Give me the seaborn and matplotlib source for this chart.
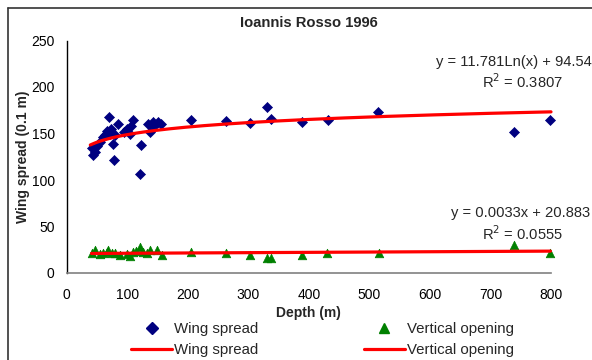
import numpy as np
import pandas as pd
import matplotlib
matplotlib.use("Agg")
import matplotlib.pyplot as plt
from matplotlib.lines import Line2D
import seaborn as sns

# ---- data ----
ws_depth = [41, 44, 47, 50, 55, 60, 63, 66, 70, 72, 74, 77, 78, 80, 85, 95, 100, 104, 107, 110,
            121, 122, 135, 138, 142, 145, 150, 155, 206, 263, 302, 331, 337, 389, 431, 515, 739, 799]
ws_value = [134, 127, 130, 137, 141, 146, 148, 153, 168, 150, 155, 139, 122, 148, 160, 152, 155, 150, 158, 165,
            106, 138, 160, 152, 162, 158, 162, 160, 164, 163, 161, 179, 166, 162, 164, 173, 152, 164]

vo_depth = [41, 47, 55, 60, 66, 69, 75, 80, 88, 100, 105, 110, 115, 121, 126, 132, 138, 149, 157,
            206, 263, 302, 331, 338, 389, 430, 516, 739, 799]
vo_value = [22, 25, 20, 21, 23, 25, 21, 21, 19, 20, 18, 23, 24, 28, 23, 21, 25, 25, 19,
            23, 22, 19, 16, 16, 19, 22, 22, 30, 22]

# trend line coefficients as printed on the chart
ws_a, ws_b, ws_r2 = 11.781, 94.54, 0.3807
vo_a, vo_b, vo_r2 = 0.0033, 20.883, 0.0555

title = "Ioannis Rosso 1996"
x_label = "Depth (m)"
y_label = "Wing spread (0.1 m)"
x_ticks = [0, 100, 200, 300, 400, 500, 600, 700, 800]
y_ticks = [0, 50, 100, 150, 200, 250]

# ---- build frames ----
ws_df = pd.DataFrame({"depth": ws_depth, "value": ws_value})
vo_df = pd.DataFrame({"depth": vo_depth, "value": vo_value})
xfit = np.linspace(min(ws_depth) - 2, max(ws_depth) + 1, 200)
ws_fit = pd.DataFrame({"depth": xfit, "value": ws_a * np.log(xfit) + ws_b})
xfit2 = np.linspace(min(vo_depth), max(vo_depth), 50)
vo_fit = pd.DataFrame({"depth": xfit2, "value": vo_a * xfit2 + vo_b})

sns.set_theme(style="white")
plt.rcParams["font.family"] = ["Liberation Sans", "DejaVu Sans"]

fig = plt.figure(figsize=(5.92, 3.6), dpi=100)
ax = fig.add_axes([66.7 / 592, 1 - 273 / 360, (551 - 66.7) / 592, (273 - 40.5) / 360])

navy = "#000080"
green = "#008000"
red = "#ff0000"

sns.lineplot(data=ws_fit, x="depth", y="value", ax=ax, color=red, linewidth=2.3, zorder=3)
sns.lineplot(data=vo_fit, x="depth", y="value", ax=ax, color=red, linewidth=2.3, zorder=3)
sns.scatterplot(data=ws_df, x="depth", y="value", ax=ax, marker="D", s=26, color=navy,
                edgecolor=navy, linewidth=0.5, zorder=2)
sns.scatterplot(data=vo_df, x="depth", y="value", ax=ax, marker="^", s=38, color=green,
                edgecolor=green, linewidth=0.5, zorder=2)

ax.set_xlim(0, 800)
ax.set_ylim(0, 250)
ax.set_xticks(x_ticks)
ax.set_yticks(y_ticks)
ax.set_xlabel(x_label, fontsize=10, fontweight="bold", labelpad=3)
ax.set_ylabel(y_label, fontsize=10, fontweight="bold", labelpad=1)
ax.set_title(title, fontsize=10.6, fontweight="bold", pad=10)

for s in ["top", "right"]:
    ax.spines[s].set_visible(False)
ax.spines["left"].set_color("black")
ax.spines["bottom"].set_color("#808080")
ax.spines["left"].set_linewidth(1)
ax.spines["bottom"].set_linewidth(1.2)
ax.tick_params(axis="both", direction="inout", length=6.3, width=1, color="black",
               labelsize=10, labelcolor="black")
ax.tick_params(axis="y", pad=5.5)
ax.tick_params(axis="x", pad=7.5)
ax.grid(False)
for c in ax.collections + ax.lines:
    c.set_clip_on(False)

# equations
fig.text(592 / 592, 1 - 62 / 360, f"y = {ws_a}Ln(x) + {ws_b}", ha="right", va="center", fontsize=10.6)
fig.text(563 / 592, 1 - 82 / 360, f"R$^2$ = {ws_r2}", ha="right", va="center", fontsize=10.6)
fig.text(590 / 592, 1 - 213 / 360, f"y = {vo_a}x + {vo_b}", ha="right", va="center", fontsize=10.6)
fig.text(563 / 592, 1 - 234 / 360, f"R$^2$ = {vo_r2}", ha="right", va="center", fontsize=10.6)

# legend
handles = [
    Line2D([], [], marker="D", linestyle="none", color=navy, markersize=5.7),
    Line2D([], [], color=red, linewidth=2.3),
    Line2D([], [], marker="^", linestyle="none", color=green, markersize=7.2),
    Line2D([], [], color=red, linewidth=2.3),
]
labels = ["Wing spread", "Wing spread", "Vertical opening", "Vertical opening"]
fig.legend(handles, labels, ncol=2, loc="center", bbox_to_anchor=(322.5 / 592, 1 - 339.5 / 360),
           frameon=False, fontsize=10.8, handlelength=2.73, handletextpad=0.13, columnspacing=7.0,
           labelspacing=0.45, borderpad=0)

# outer chart frame (left and top visible)
fig.add_artist(Line2D([8 / 592, 8 / 592], [0, 1 - 8 / 360], transform=fig.transFigure,
                      color="#333333", linewidth=1.2))
fig.add_artist(Line2D([8 / 592, 1], [1 - 8 / 360, 1 - 8 / 360], transform=fig.transFigure,
                      color="#333333", linewidth=1.2))

fig.savefig("out.png", dpi=100)
